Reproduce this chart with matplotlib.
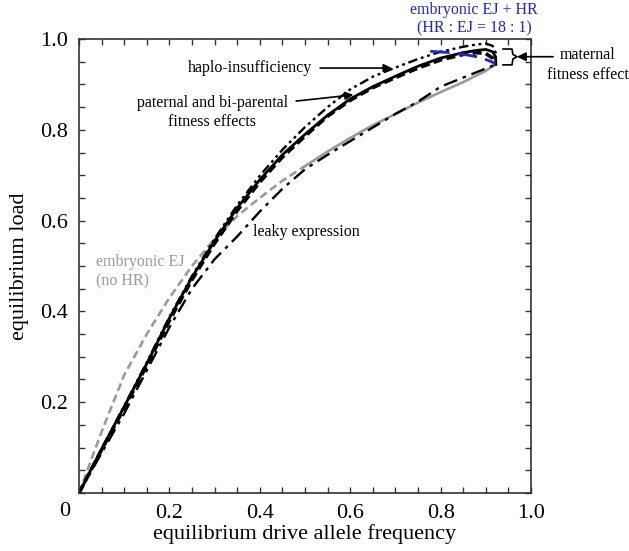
import matplotlib
matplotlib.use("Agg")
import matplotlib.pyplot as plt
import numpy as np

# ---- data ------------------------------------------------------------------
# black solid curve (with the maternal-effect hook at the end)
solid_x = [0, 0.05, 0.1, 0.15, 0.2, 0.25, 0.3, 0.35, 0.4, 0.45, 0.5, 0.55,
           0.6, 0.65, 0.7, 0.75, 0.8, 0.85, 0.88, 0.9, 0.915, 0.922, 0.922]
solid_y = [0, 0.097, 0.19, 0.285, 0.385, 0.475, 0.555, 0.628, 0.69, 0.745,
           0.79, 0.832, 0.868, 0.895, 0.918, 0.94, 0.958, 0.97, 0.975, 0.977,
           0.972, 0.96, 0.944]

# paternal and bi-parental fitness effects (black dashed)
pat_x = [0, 0.05, 0.1, 0.15, 0.2, 0.25, 0.3, 0.35, 0.4, 0.45, 0.5, 0.55,
         0.6, 0.65, 0.7, 0.75, 0.8, 0.85, 0.88, 0.9, 0.915, 0.922]
pat_y = [0, 0.095, 0.187, 0.281, 0.38, 0.47, 0.55, 0.622, 0.685, 0.74,
         0.786, 0.83, 0.865, 0.893, 0.915, 0.936, 0.954, 0.966, 0.97, 0.968,
         0.958, 0.944]

# haplo-insufficiency (dash-dot-dot)
hap_x = [0, 0.05, 0.1, 0.15, 0.2, 0.25, 0.3, 0.35, 0.4, 0.45, 0.5, 0.55,
         0.6, 0.65, 0.7, 0.75, 0.8, 0.85, 0.88, 0.9, 0.915, 0.922, 0.922]
hap_y = [0, 0.097, 0.192, 0.288, 0.388, 0.478, 0.56, 0.634, 0.699, 0.756,
         0.806, 0.85, 0.889, 0.917, 0.937, 0.956, 0.972, 0.983, 0.988, 0.99,
         0.985, 0.97, 0.944]

# leaky expression (dash-dot)
leak_x = [0, 0.05, 0.1, 0.15, 0.2, 0.25, 0.3, 0.35, 0.4, 0.45, 0.5, 0.55,
          0.6, 0.65, 0.7, 0.75, 0.8, 0.85, 0.9, 0.922]
leak_y = [0, 0.088, 0.175, 0.27, 0.365, 0.45, 0.515, 0.565, 0.62, 0.67,
          0.713, 0.745, 0.775, 0.805, 0.835, 0.862, 0.895, 0.915, 0.935, 0.944]

# embryonic EJ, no HR (gray; dashed at low frequency, solid above)
ej_x = [0, 0.05, 0.1, 0.15, 0.2, 0.25, 0.3, 0.35, 0.4, 0.45, 0.5, 0.55,
        0.6, 0.65, 0.7, 0.75, 0.8, 0.85, 0.9, 0.922]
ej_y = [0, 0.135, 0.26, 0.35, 0.43, 0.5, 0.56, 0.61, 0.65, 0.688, 0.72,
        0.752, 0.782, 0.81, 0.835, 0.86, 0.883, 0.905, 0.93, 0.944]
ej_split = 0.5

# embryonic EJ + HR (blue dashed)
hr_x = [0.777, 0.82, 0.858, 0.885, 0.902, 0.915, 0.922]
hr_y = [0.973, 0.97, 0.965, 0.96, 0.954, 0.949, 0.944]

ticks = [0.2, 0.4, 0.6, 0.8, 1.0]
tick_labels = ["0.2", "0.4", "0.6", "0.8", "1.0"]

# ---- figure ----------------------------------------------------------------
plt.rcParams["font.family"] = ["Liberation Serif", "DejaVu Serif"]
fig = plt.figure(figsize=(6.29, 5.51), dpi=100)
ax = fig.add_axes([0.1256, 0.1053, 0.7186, 0.8239])

gray = "#9a9a9a"
ej_x_a = np.array(ej_x)
ej_y_a = np.array(ej_y)
low = ej_x_a <= ej_split
high = ej_x_a >= ej_split
ax.plot(ej_x_a[low], ej_y_a[low], color=gray, lw=1.9, dashes=(3, 1.6))
ax.plot(ej_x_a[high], ej_y_a[high], color=gray, lw=1.9)

ax.plot(leak_x, leak_y, color="black", lw=1.7, dashes=(6, 2.5, 1.5, 2.5))
ax.plot(solid_x, solid_y, color="black", lw=2.0)
ax.plot(pat_x, pat_y, color="black", lw=2.6, dashes=(2.5, 1.2))
ax.plot(hap_x, hap_y, color="black", lw=1.7,
        dashes=(4, 1.6, 1.2, 1.6, 1.2, 1.6))
ax.plot(hr_x, hr_y, color="#1f22d8", lw=2.0, dashes=(7, 3))

ax.set_xlim(0, 1)
ax.set_ylim(0, 1)
ax.set_xticks(ticks)
ax.set_xticklabels(tick_labels)
ax.set_yticks(ticks)
ax.set_yticklabels(tick_labels)
ax.set_xticks(np.arange(0, 1.0001, 0.05), minor=True)
ax.set_yticks(np.arange(0, 1.0001, 0.05), minor=True)
ax.tick_params(which="both", direction="in", top=True, right=True,
               length=4, width=1.0, color="#333333", labelsize=16, pad=8)
for sp in ax.spines.values():
    sp.set_color("#333333")
    sp.set_linewidth(1.2)

ax.annotate("0", xy=(0, 0), xycoords="data", xytext=(-14, -19),
            textcoords="offset pixels", ha="center", va="center", fontsize=16)

ax.set_xlabel("equilibrium drive allele frequency", fontsize=16, labelpad=1)
ax.set_ylabel("equilibrium load", fontsize=16, labelpad=8)

# ---- annotations -----------------------------------------------------------
fs = 11.5
ax.annotate("haplo-insufficiency", xy=(0.692, 0.936), xytext=(0.515, 0.936),
            ha="right", va="center", fontsize=fs,
            arrowprops=dict(arrowstyle="-|>", color="black", lw=1.2,
                            mutation_scale=12, shrinkA=4, shrinkB=0))
ax.annotate("paternal and bi-parental\nfitness effects", xy=(0.607, 0.877),
            xytext=(0.462, 0.877), ha="right", va="top", fontsize=fs,
            multialignment="center", linespacing=1.3,
            arrowprops=dict(arrowstyle="-|>", color="black", lw=1.2,
                            mutation_scale=12, shrinkA=4, shrinkB=0,
                            relpos=(1.0, 0.8)))
ax.text(0.385, 0.575, "leaky expression", ha="left", va="center", fontsize=fs)
ax.text(0.038, 0.487, "embryonic EJ\n(no HR)", ha="left", va="center",
        fontsize=fs, color=gray, linespacing=1.3)
ax.text(0.874, 1.044, "embryonic EJ + HR\n(HR : EJ = 18 : 1)", ha="center",
        va="center", fontsize=fs, color="#1f22d8", linespacing=1.25,
        clip_on=False)

# maternal bracket + arrow
ax.plot([0.938, 0.958, 0.960, 0.969, 0.960, 0.958, 0.938],
        [0.978, 0.978, 0.966, 0.961, 0.956, 0.943, 0.943],
        color="black", lw=1.2, clip_on=False)
ax.annotate("", xy=(0.969, 0.961), xytext=(1.049, 0.961),
            arrowprops=dict(arrowstyle="-|>", color="black", lw=1.2,
                            mutation_scale=13, shrinkA=0, shrinkB=0),
            annotation_clip=False)
ax.text(1.126, 0.943, "maternal\nfitness effect", ha="center", va="center",
        fontsize=fs, linespacing=1.3, clip_on=False)

fig.savefig("out.png", dpi=100)
